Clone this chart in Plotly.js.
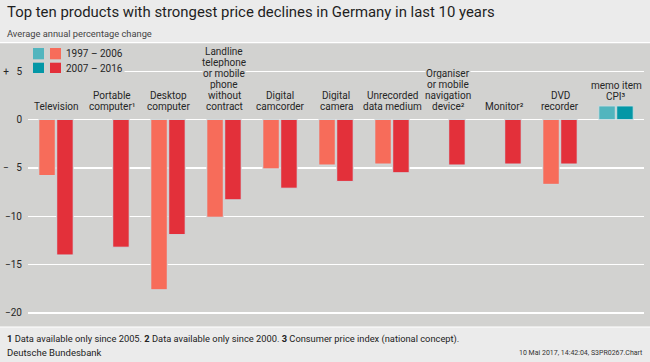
<!DOCTYPE html>
<html>
<head>
<meta charset="utf-8">
<script src="https://cdn.plot.ly/plotly-3.0.1.min.js"></script>
<style>html,body{margin:0;padding:0;background:#ececec;}#chart{width:650px;height:362px;}</style>
</head>
<body>
<div id="chart"></div>
<script>
// ---- data ----
const categories = ['Television','Portable computer','Desktop computer','Landline telephone','Digital camcorder','Digital camera','Unrecorded data medium','Organiser','Monitor','DVD recorder','CPI'];
const categoryLabels = [
  ['Television'],
  ['Portable','computer¹'],
  ['Desktop','computer'],
  ['Landline','telephone','or mobile','phone','without','contract'],
  ['Digital','camcorder'],
  ['Digital','camera'],
  ['Unrecorded','data medium'],
  ['Organiser','or mobile','navigation','device²'],
  ['Monitor²'],
  ['DVD','recorder'],
  ['memo item','CPI³']
];
const series1Name = '1997 – 2006';
const series2Name = '2007 – 2016';
const values1997_2006 = [-5.8, null, -17.6, -10.1, -5.1, -4.7, -4.6, null, null, -6.7, 1.4];
const values2007_2016 = [-14.0, -13.2, -11.9, -8.3, -7.1, -6.4, -5.5, -4.7, -4.6, -4.6, 1.4];
const yTickVals = [-20, -15, -10, -5, 0, 5];
const yTickText = ['−20', '−15', '−10', '−\u2002 5', '0', '+\u2002 5'];
const titleText = 'Top ten products with strongest price declines in Germany in last 10 years';
const subtitleText = 'Average annual percentage change';
const footnoteText = '<b>1</b> Data available only since 2005. <b>2</b> Data available only since 2000. <b>3</b> Consumer price index (national concept).';
const sourceText = 'Deutsche Bundesbank';
const stampText = '10 Mai 2017, 14:42:04, S3PR0267.Chart';

// ---- style ----
const W = 650, H = 362;
const M = {l: 28, r: 6, t: 43, b: 35};
const PW = W - M.l - M.r, PH = H - M.t - M.b;
const plotBg = '#d2d2d0';
const headBg = '#ebebeb';
const coral = '#f76c5a', red = '#e3303a', tealL = '#52b5be', tealD = '#0497a6';
const FONT = 'Roboto, "Noto Sans", sans-serif';
const txt = '#262626';
const px = x => (x - M.l) / PW;
const py = y => 1 - (y - M.t) / PH;

const isMemo = c => c === 'CPI';
const traces = [
  {type: 'bar', name: series1Name, x: categories, y: values1997_2006,
   marker: {color: categories.map(c => isMemo(c) ? tealL : coral), line: {color: 'rgba(205,222,226,0.9)', width: 1}},
   hoverinfo: 'x+y', showlegend: false},
  {type: 'bar', name: series2Name, x: categories, y: values2007_2016,
   marker: {color: categories.map(c => isMemo(c) ? tealD : red), line: {color: 'rgba(205,222,226,0.9)', width: 1}},
   hoverinfo: 'x+y', showlegend: false}
];

const annotations = [];
// category labels, one annotation per line
categoryLabels.forEach((lines, i) => {
  const base = isMemo(categories[i]) ? 22.8 : 13.5;
  const n = lines.length;
  lines.forEach((ln, j) => {
    annotations.push({x: categories[i], y: 0, xref: 'x', yref: 'y', text: ln, showarrow: false,
      yanchor: 'middle', xanchor: 'center', yshift: base + (n - 1 - j) * 10.85,
      font: {family: FONT, size: 10, color: txt}, bgcolor: plotBg, borderpad: 0});
  });
});
// titles and footer
annotations.push({xref: 'paper', yref: 'paper', x: px(5), y: py(12), xanchor: 'left', yanchor: 'middle', showarrow: false,
  text: titleText, font: {family: FONT, size: 14.9, color: '#1e1e1e'}});
annotations.push({xref: 'paper', yref: 'paper', x: px(5), y: py(33), xanchor: 'left', yanchor: 'middle', showarrow: false,
  text: subtitleText, font: {family: FONT, size: 9.3, color: '#444'}});
annotations.push({xref: 'paper', yref: 'paper', x: px(5), y: py(339), xanchor: 'left', yanchor: 'middle', showarrow: false,
  text: footnoteText, font: {family: FONT, size: 9.3, color: '#222'}});
annotations.push({xref: 'paper', yref: 'paper', x: px(5), y: py(352), xanchor: 'left', yanchor: 'middle', showarrow: false,
  text: sourceText, font: {family: FONT, size: 9.5, color: '#222'}});
annotations.push({xref: 'paper', yref: 'paper', x: px(645), y: py(353), xanchor: 'right', yanchor: 'middle', showarrow: false,
  text: stampText, font: {family: FONT, size: 7, color: '#333'}});
// legend text
annotations.push({xref: 'paper', yref: 'paper', x: px(64), y: py(54), xanchor: 'left', yanchor: 'middle', showarrow: false,
  text: series1Name, font: {family: FONT, size: 10, color: txt}, bgcolor: plotBg, borderpad: 1});
annotations.push({xref: 'paper', yref: 'paper', x: px(64), y: py(68.3), xanchor: 'left', yanchor: 'middle', showarrow: false,
  text: series2Name, font: {family: FONT, size: 10, color: txt}, bgcolor: plotBg, borderpad: 1});

const rect = (x0, y0, x1, y1, color, layer) => ({type: 'rect', xref: 'paper', yref: 'paper',
  x0: px(x0), x1: px(x1), y0: py(y1), y1: py(y0), fillcolor: color, line: {width: 0}, layer: layer || 'above'});
const shapes = [
  rect(0, 0, 650, 42, headBg, 'below'),
  rect(0, 42, 650, 43.2, '#ffffff', 'below'),
  rect(0, 327, 650, 362, headBg, 'below'),
  rect(0, 326.4, 650, 327.6, '#ffffff', 'below'),
  rect(27, 44, 64, 76, plotBg),
  rect(33, 48, 44, 59.3, tealL),
  rect(50, 48, 61, 59.3, coral),
  rect(33, 62.7, 44, 73, tealD),
  rect(50, 62.7, 61, 73, red)
];

const layout = {
  width: W, height: H, margin: M,
  paper_bgcolor: plotBg, plot_bgcolor: plotBg,
  barmode: 'group', bargap: 0.36, bargroupgap: 0.08,
  showlegend: false,
  xaxis: {type: 'category', categoryarray: categories, range: [-0.5, 10.5], showticklabels: false,
    showgrid: false, zeroline: false, showline: false, ticks: '', fixedrange: true},
  yaxis: {range: [-21.45, 7.91], tickvals: yTickVals, ticktext: yTickText, showgrid: true, gridcolor: '#ffffff', gridwidth: 1.3,
    zeroline: true, zerolinecolor: '#ffffff', zerolinewidth: 1.8, showline: false, ticks: '', ticklabelstandoff: 5,
    tickfont: {family: FONT, size: 10, color: txt}, fixedrange: true},
  annotations: annotations, shapes: shapes,
  font: {family: FONT}
};
Plotly.newPlot('chart', traces, layout, {displayModeBar: false, staticPlot: true});
</script>
</body>
</html>
